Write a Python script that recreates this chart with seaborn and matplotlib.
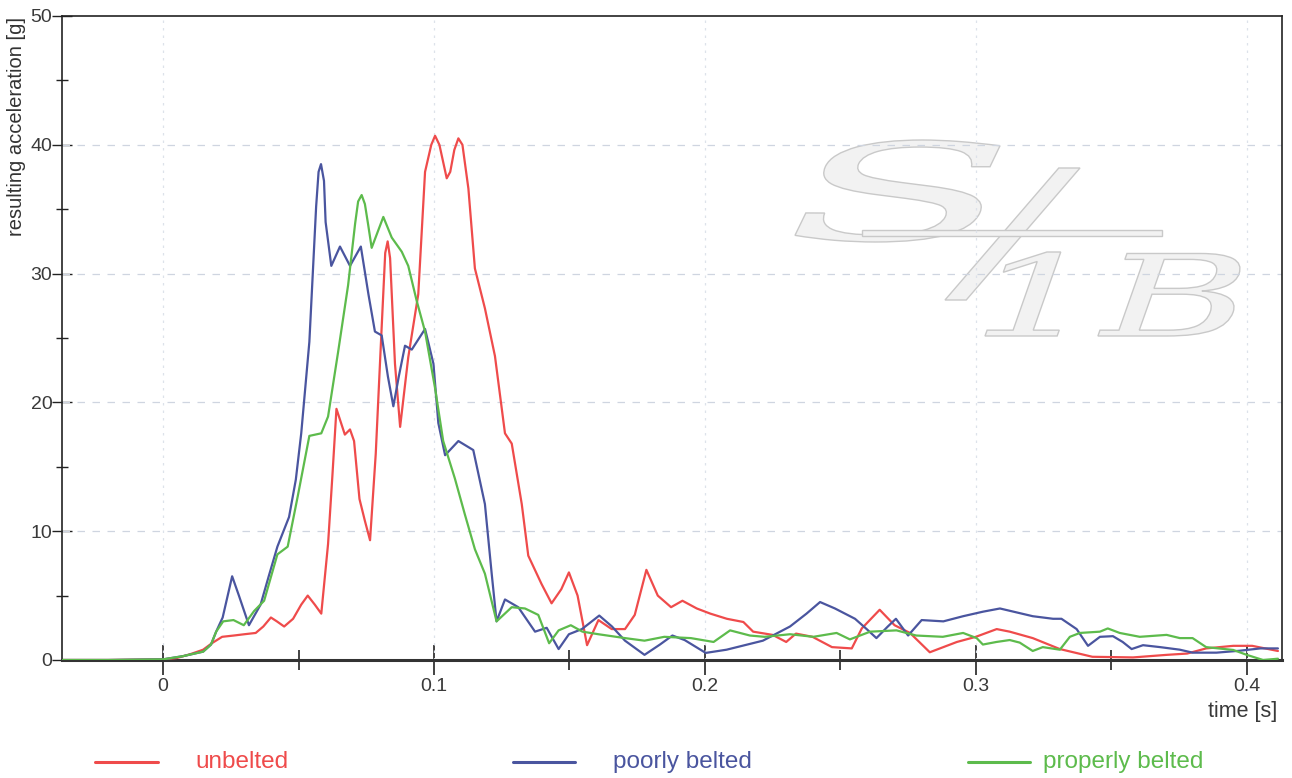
import numpy as np
import pandas as pd
import matplotlib
matplotlib.use("Agg")
import matplotlib.pyplot as plt
from matplotlib.lines import Line2D
from matplotlib.ticker import MultipleLocator
from matplotlib.textpath import TextPath
from matplotlib.font_manager import FontProperties
from matplotlib.patches import PathPatch, Rectangle
from matplotlib.transforms import Affine2D
import seaborn as sns

# ---------------- data ----------------
unbelted_t = [-0.037, -0.02, 0.0, 0.005, 0.010, 0.0148, 0.018, 0.0218, 0.0261, 0.030, 0.0342,
              0.037, 0.0398, 0.042, 0.0447, 0.048, 0.051, 0.0534, 0.056, 0.0584, 0.0609, 0.0625,
              0.064, 0.0671, 0.069, 0.0705, 0.0725, 0.0745, 0.0764, 0.0785, 0.0805, 0.082, 0.0829,
              0.0838, 0.0856, 0.0875, 0.0905, 0.0942, 0.0967, 0.099, 0.1004, 0.102, 0.1047, 0.106,
              0.1075, 0.109, 0.1105, 0.1127,
              0.1151, 0.1188, 0.1225, 0.1262, 0.1287, 0.1324, 0.1348, 0.1397, 0.1434, 0.147,
              0.1498, 0.153, 0.1565, 0.1607, 0.1656, 0.1705, 0.1741, 0.1784, 0.1826, 0.1875,
              0.1917, 0.197, 0.202, 0.2081, 0.2142, 0.2178, 0.225, 0.230, 0.2336, 0.2397,
              0.2469, 0.2542, 0.2579, 0.2645, 0.270, 0.2757, 0.283, 0.293, 0.300, 0.3077,
              0.3125, 0.321, 0.331, 0.343, 0.358, 0.3705, 0.378, 0.385, 0.395, 0.402, 0.4115]
unbelted_g = [0.0, 0.0, 0.05, 0.15, 0.45, 0.8, 1.3, 1.8, 1.9, 2.0, 2.1,
              2.6, 3.3, 3.0, 2.6, 3.2, 4.3, 5.0, 4.3, 3.6, 9.0, 14.3,
              19.5, 17.5, 17.9, 17.0, 12.5, 10.8, 9.3, 16.0, 25.0, 31.6, 32.5,
              31.2, 23.0, 18.1, 23.5, 28.4, 37.9, 40.0, 40.7, 40.0, 37.4, 37.9,
              39.6, 40.5, 40.0, 36.6,
              30.4, 27.3, 23.6, 17.6, 16.8, 12.1, 8.1, 5.9, 4.4, 5.5,
              6.8, 5.0, 1.15, 3.1, 2.4, 2.4, 3.5, 7.0, 5.0, 4.1,
              4.6, 4.0, 3.6, 3.2, 2.95, 2.2, 1.95, 1.4, 2.05, 1.8,
              1.0, 0.9, 2.45, 3.9, 2.7, 2.1, 0.6, 1.4, 1.8, 2.4,
              2.2, 1.7, 0.85, 0.25, 0.2, 0.4, 0.5, 0.9, 1.1, 1.1, 0.7]

poorly_t = [-0.037, -0.02, 0.0, 0.0074, 0.0148, 0.0177, 0.0196, 0.022, 0.0255, 0.028, 0.0317,
            0.036, 0.039, 0.0422, 0.0465, 0.049, 0.051, 0.054, 0.0565, 0.0574, 0.0583, 0.0594,
            0.060, 0.0621,
            0.0653, 0.069, 0.073, 0.0758, 0.0782, 0.0807, 0.083, 0.085, 0.087, 0.0893,
            0.0918, 0.0967, 0.0998, 0.1016, 0.1041, 0.109, 0.1145, 0.1188, 0.1213, 0.1231,
            0.1262, 0.1311, 0.1373, 0.1416, 0.146, 0.1498, 0.1546, 0.161, 0.1657, 0.1705,
            0.1777, 0.1834, 0.188, 0.1925, 0.2003, 0.208, 0.2214, 0.2314, 0.2375, 0.2425,
            0.248, 0.2554, 0.2597, 0.2633, 0.2675, 0.2705, 0.275, 0.280, 0.288, 0.2953,
            0.3026, 0.3089, 0.321, 0.3285, 0.3316, 0.3372, 0.3414, 0.3458, 0.3506, 0.3542,
            0.3575, 0.3617, 0.368, 0.3753, 0.380, 0.3888, 0.3974, 0.405, 0.4115]
poorly_g = [0.0, 0.0, 0.05, 0.3, 0.65, 1.2, 2.2, 3.3, 6.5, 5.0, 2.7,
            4.3, 6.5, 8.8, 11.1, 14.0, 17.6, 24.7, 35.2, 37.9, 38.5, 37.2,
            34.0, 30.6,
            32.1, 30.6, 32.1, 28.4, 25.5, 25.2, 22.0, 19.7, 22.0, 24.4,
            24.1, 25.7, 23.0, 18.4, 15.9, 17.0, 16.3, 12.1, 6.7, 3.0,
            4.7, 4.1, 2.2, 2.5, 0.85, 2.0, 2.4, 3.45, 2.6, 1.5,
            0.4, 1.2, 1.9, 1.55, 0.55, 0.8, 1.5, 2.6, 3.6, 4.5,
            4.0, 3.2, 2.4, 1.7, 2.6, 3.2, 1.9, 3.1, 3.0, 3.4,
            3.75, 4.0, 3.4, 3.2, 3.2, 2.4, 1.1, 1.8, 1.85, 1.4,
            0.85, 1.15, 1.0, 0.8, 0.57, 0.57, 0.72, 0.9, 0.9]

properly_t = [-0.037, -0.02, 0.0, 0.0074, 0.0148, 0.0177, 0.0196, 0.0222, 0.026, 0.0298, 0.0336,
              0.0373, 0.0422, 0.046, 0.0497, 0.054, 0.0584, 0.0609, 0.0646, 0.0683, 0.0709,
              0.072, 0.0733, 0.0745, 0.0757, 0.077, 0.0813, 0.0844, 0.0881, 0.0905, 0.0936,
              0.0967, 0.1004,
              0.1034, 0.1077, 0.1114, 0.1151, 0.1188, 0.1231, 0.1287, 0.1336, 0.1385, 0.1425,
              0.146, 0.1505, 0.1548, 0.1607, 0.1705, 0.1777, 0.185, 0.1948, 0.2032, 0.2093,
              0.2166, 0.222, 0.2314, 0.240, 0.2486, 0.2535, 0.261, 0.2707, 0.278, 0.2878,
              0.2953, 0.3003, 0.3026, 0.3076, 0.3125, 0.3162, 0.321, 0.3247, 0.331, 0.3347,
              0.3384, 0.3458, 0.3487, 0.3531, 0.3605, 0.3704, 0.3753, 0.380, 0.385, 0.395,
              0.400, 0.406, 0.4115]
properly_g = [0.0, 0.0, 0.05, 0.3, 0.65, 1.2, 2.2, 3.0, 3.1, 2.7, 3.8,
              4.6, 8.2, 8.8, 12.7, 17.4, 17.6, 18.9, 23.9, 29.1, 33.9,
              35.6, 36.1, 35.4, 33.8, 32.0, 34.4, 32.8, 31.7, 30.6, 27.9,
              25.5, 21.1,
              17.0, 14.1, 11.3, 8.6, 6.7, 3.0, 4.1, 4.0, 3.5, 1.3,
              2.3, 2.7, 2.2, 2.0, 1.7, 1.5, 1.8, 1.7, 1.4, 2.3,
              1.9, 1.8, 2.0, 1.8, 2.1, 1.6, 2.2, 2.3, 1.9, 1.8,
              2.1, 1.7, 1.2, 1.4, 1.55, 1.35, 0.7, 1.0, 0.8, 1.8,
              2.1, 2.2, 2.45, 2.1, 1.8, 1.95, 1.7, 1.7, 1.0, 0.78,
              0.4, 0.0, 0.1]

series_names = ["unbelted", "poorly belted", "properly belted"]
series_colors = ["#ef4b4b", "#4a559f", "#5dbb4c"]

x_ticks = [0, 0.1, 0.2, 0.3, 0.4]
x_tick_labels = ["0", "0.1", "0.2", "0.3", "0.4"]
y_ticks = [0, 10, 20, 30, 40, 50]

# ---------------- figure ----------------
sns.set_style("white")
plt.rcParams["font.family"] = ["Liberation Sans", "DejaVu Sans"]

W, H = 1292, 778
fig = plt.figure(figsize=(W / 100, H / 100), dpi=100)
ax = fig.add_axes([62 / W, 1 - 660 / H, (1282 - 62) / W, (660 - 16) / H])

frames = []
for name, t, g in [(series_names[0], unbelted_t, unbelted_g),
                   (series_names[1], poorly_t, poorly_g),
                   (series_names[2], properly_t, properly_g)]:
    frames.append(pd.DataFrame({"time": t, "acc": g, "case": name}))
df = pd.concat(frames, ignore_index=True)

# ---- watermark logo (decorative, behind the data) ----
pix = Affine2D().scale(1 / 100) + fig.dpi_scale_trans
wm_prop = FontProperties(family="DejaVu Serif", style="italic")


def logo_glyph(s, box):
    x0, y0, x1, y1 = box  # pixel box, origin top-left
    tp = TextPath((0, 0), s, size=100, prop=wm_prop)
    ext = tp.get_extents()
    tr = (Affine2D().translate(-ext.x0, -ext.y0)
          .scale((x1 - x0) / ext.width, (y1 - y0) / ext.height)
          .translate(x0, H - y1))
    patch = PathPatch(tr.transform_path(tp), transform=pix, facecolor="#f2f2f2",
                      edgecolor="#c9c9c9", lw=1.0, zorder=0.5, clip_on=False)
    ax.add_artist(patch)


logo_glyph("S", (795, 140, 1000, 242))
logo_glyph("/", (945, 168, 1080, 300))
logo_glyph("1B", (985, 252, 1240, 336))
ax.add_artist(Rectangle((862 / 100, (H - 236) / 100), 300 / 100, 6 / 100,
                        transform=fig.dpi_scale_trans, facecolor="#f2f2f2",
                        edgecolor="#c9c9c9", lw=1.0, zorder=0.5, clip_on=False))

sns.lineplot(data=df, x="time", y="acc", hue="case", hue_order=series_names,
             palette=series_colors, linewidth=1.6, ax=ax, legend=False, sort=False,
             zorder=3, solid_joinstyle="round")

ax.set_xlim(-0.0373, 0.4130)
ax.set_ylim(0, 50)
ax.set_xlabel("")
ax.set_ylabel("")

ax.set_xticks(x_ticks)
ax.set_xticklabels(x_tick_labels)
ax.xaxis.set_minor_locator(MultipleLocator(0.05))
ax.set_yticks(y_ticks)
ax.yaxis.set_minor_locator(MultipleLocator(5))

ax.tick_params(which="both", bottom=True, left=True, top=False, right=False)
ax.tick_params(axis="y", which="major", direction="inout", length=14, width=1.0,
               color="#222222", pad=0, labelsize=14, labelcolor="#3a3a3a")
ax.tick_params(axis="y", which="minor", direction="inout", length=9, width=1.0, color="#222222")
ax.tick_params(axis="x", which="major", direction="inout", length=22, width=1.2,
               color="#222222", pad=2, labelsize=14, labelcolor="#3a3a3a")
ax.tick_params(axis="x", which="minor", direction="inout", length=14, width=1.2, color="#222222")

# grid
for yv in [10, 20, 30, 40]:
    ax.axhline(yv, color="#cfd5e0", lw=0.9, ls=(0, (6, 6)), zorder=1)
for xv in x_ticks:
    ax.axvline(xv, color="#dde2ea", lw=0.9, ls=(0, (2, 4)), zorder=1)

for side in ["left", "top", "right"]:
    ax.spines[side].set_color("#222222")
    ax.spines[side].set_linewidth(1.2)
ax.spines["bottom"].set_color("#333333")
ax.spines["bottom"].set_linewidth(2.2)

fig.text(17 / W, 1 - 17 / H, "resulting acceleration [g]", rotation=90,
         ha="center", va="top", fontsize=14.5, color="#333333")
fig.text(1277 / W, 1 - 712 / H, "time [s]", ha="right", va="center",
         fontsize=15.5, color="#3a3a3a")

# legend row
legend_items = [(95, 158, 195), (513, 575, 613), (968, 1030, 1043)]
for (x0, x1, xt), name, col in zip(legend_items, series_names, series_colors):
    fig.add_artist(Line2D([x0 / W, x1 / W], [1 - 762 / H, 1 - 762 / H],
                          transform=fig.transFigure, color=col, lw=2.2))
    fig.text(xt / W, 1 - 762 / H, name, ha="left", va="center", fontsize=17.5, color=col)

fig.savefig("out.png", dpi=100)
